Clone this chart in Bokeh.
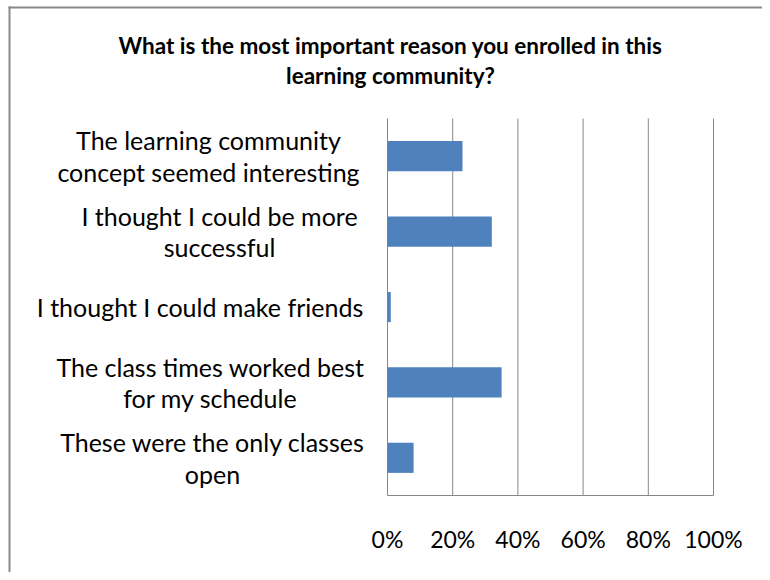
from bokeh.plotting import figure
from bokeh.models import Range1d
from bokeh.embed import file_html
from bokeh.resources import INLINE

title_text = "What is the most important reason you enrolled in this\nlearning community?"
categories = [
    "The learning community\nconcept seemed interesting",
    "I thought I could be more\nsuccessful",
    "I thought I could make friends",
    "The class times worked best\nfor my schedule",
    "These were the only classes\nopen",
]
values = [23, 32, 1, 35, 8]
tick_values = [0, 20, 40, 60, 80, 100]
tick_labels = ["0%", "20%", "40%", "60%", "80%", "100%"]

FONT = "Lato"
GRAY = "#878787"
BAR = "#4f81bd"

# canvas layout (pixels)
W, H = 762, 572
PX_LEFT, PX_RIGHT = 387, 713      # plot area x extent
PX_TOP, PX_BOTTOM = 118, 495      # plot area y extent
n = len(categories)
sx = (PX_RIGHT - PX_LEFT) / 100.0   # px per percent
sy = (PX_BOTTOM - PX_TOP) / n       # px per category band

def dx(px):
    return (px - PX_LEFT) / sx

def dy(py):
    return (PX_BOTTOM - py) / sy

p = figure(width=W, height=H, output_backend="svg", toolbar_location=None,
           x_range=Range1d(dx(0), dx(W)), y_range=Range1d(dy(H), dy(0)),
           min_border=0)
p.min_border_left = p.min_border_right = p.min_border_top = p.min_border_bottom = 0
p.outline_line_color = None
p.axis.visible = False
p.grid.visible = False
p.background_fill_color = "white"
p.border_fill_color = "white"

# chart border (top and left edges visible)
p.segment(x0=[dx(8), dx(9)], x1=[dx(W), dx(9)], y0=[dy(7), dy(6)], y1=[dy(7), dy(H)],
          line_color="#8a8a8a", line_width=2)

ypos = [n - 0.5 - i for i in range(n)]

# gridlines and axis line
p.segment(x0=tick_values, x1=tick_values, y0=[0] * len(tick_values), y1=[n] * len(tick_values),
          line_color=GRAY, line_width=1)
p.segment(x0=[0], x1=[100], y0=[0], y1=[0], line_color=GRAY, line_width=1)

# bars
p.hbar(y=ypos, right=values, left=0, height=0.4, color=BAR, line_color=None)

# x tick labels
p.text(x=tick_values, y=[dy(538)] * len(tick_values), text=tick_labels,
       text_align="center", text_baseline="middle",
       text_font={"value": FONT}, text_font_size="23px", text_color="black")

# category labels (block centres in px)
label_centers = [208, 219, 199.5, 210, 212]
p.text(x=[dx(c) for c in label_centers], y=ypos, text=categories,
       text_align="center", text_baseline="middle",
       text_font={"value": FONT}, text_font_size="25px", text_color="black",
       text_line_height=1.06)

# title
p.text(x=[dx(390)], y=[dy(60)], text=[title_text],
       text_align="center", text_baseline="middle",
       text_font={"value": FONT}, text_font_size="22.5px", text_font_style="bold",
       text_color="black", text_line_height=1.08)

open("out.html", "w").write(file_html(p, INLINE))
